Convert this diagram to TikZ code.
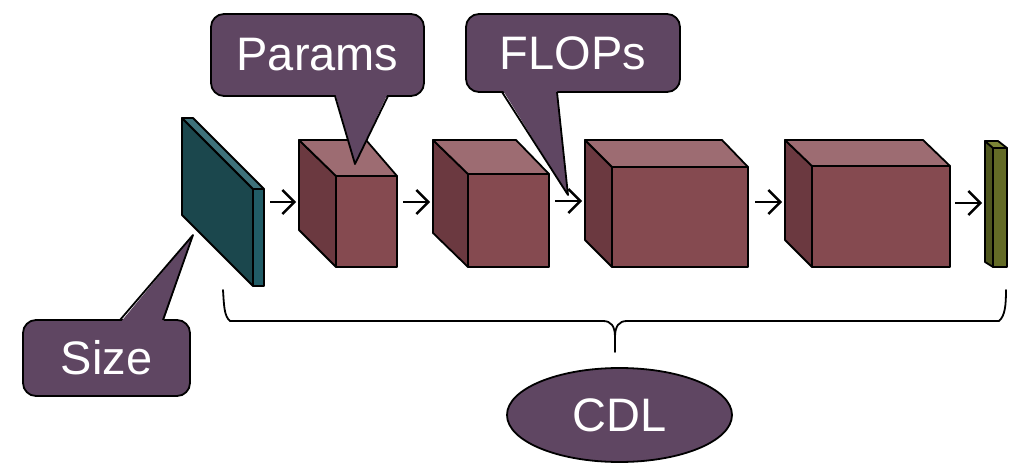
\documentclass[tikz,border=0pt]{standalone}
\usepackage{fontspec}
\setmainfont{Liberation Sans}
\usetikzlibrary{arrows.meta,shapes.geometric}
\definecolor{redF}{HTML}{854A50}
\definecolor{redT}{HTML}{9D6C72}
\definecolor{redS}{HTML}{6B3940}
\definecolor{tealF}{HTML}{215C66}
\definecolor{tealT}{HTML}{3E717A}
\definecolor{tealS}{HTML}{1B474D}
\definecolor{oliveF}{HTML}{636B26}
\definecolor{oliveT}{HTML}{7C8536}
\definecolor{oliveS}{HTML}{4F561E}
\definecolor{calloutc}{HTML}{5F4662}
\newcommand\drawblock[9]{%
  \filldraw[fill=#9S] (#1,#2) -- (#4,#5) -- (#4,#7) -- (#1,#8) -- cycle;
  \filldraw[fill=#9T] (#1,#2) -- (#3,#2) -- (#6,#5) -- (#4,#5) -- cycle;
  \filldraw[fill=#9F] (#4,#5) rectangle (#6,#7);
}
\tikzset{
  calloutbox/.style={rectangle, rounded corners=13pt, draw, fill=calloutc, text=white,
    font=\fontsize{47}{56}\selectfont, inner sep=0pt},
  flowarrow/.style={line width=2.4pt, -{Straight Barb[length=12pt,width=24pt,line width=2.4pt]}},
  bracepath/.style={line width=1.8pt, line cap=round, line join=round},
}
\begin{document}
\begin{tikzpicture}[x=1pt,y=-1pt, line width=1.8pt, line join=round]
\useasboundingbox (0,0) rectangle (1012,476);
% blocks
\drawblock{182}{118}{193}{253}{189}{264}{286}{215}{teal}
\drawblock{299}{140}{366}{336}{176}{397}{267}{230}{red}
\drawblock{433}{140}{516}{468}{174}{549}{267}{233}{red}
\drawblock{585}{140}{722}{612}{167}{748}{267}{240}{red}
\drawblock{785}{140}{923}{812}{166}{950}{267}{240}{red}
\drawblock{985}{141}{998}{993}{148}{1007}{267}{262}{olive}
% arrow end points
\coordinate (p1out) at (270,202);
\coordinate (c1in) at (296,202);
\coordinate (c1out) at (403,202);
\coordinate (c2in) at (430,202);
\coordinate (c2out) at (555,201);
\coordinate (c3in) at (582,201);
\coordinate (c3out) at (755,202);
\coordinate (c4in) at (782,202);
\coordinate (c4out) at (955,203);
\coordinate (p2in) at (982,203);
\draw[flowarrow] (p1out) -- (c1in);
\draw[flowarrow] (c1out) -- (c2in);
\draw[flowarrow] (c2out) -- (c3in);
\draw[flowarrow] (c3out) -- (c4in);
\draw[flowarrow] (c4out) -- (p2in);
% brace
\coordinate (bl) at (223,290);
\coordinate (br) at (1006,290);
\coordinate (btip) at (615,352);
\draw[bracepath] (bl) .. controls (224,305) and (224,316) .. (230,321) -- (603,321)
  .. controls (611,321) and (615,326) .. (615,337) -- (btip);
\draw[bracepath] (615,337) .. controls (615,326) and (619,321) .. (627,321) -- (999,321)
  .. controls (1005,316) and (1006,305) .. (br);
% CDL
\node[ellipse, draw, fill=calloutc, text=white, minimum width=225pt, minimum height=94pt,
  inner sep=0pt, font=\fontsize{47}{56}\selectfont] (cdl) at (619.5,415) {CDL};
% callouts
\node[calloutbox, minimum width=213pt, minimum height=82pt] (params) at (317.5,55) {Params};
\fill[calloutc] (335,93) -- (355,164) -- (388,93) -- cycle;
\draw (335,96) -- (355,164) -- (388,96);
\node[calloutbox, minimum width=214pt, minimum height=78pt] (flops) at (573,53) {FLOPs};
\fill[calloutc] (502,89) -- (568,195) -- (557,89) -- cycle;
\draw (502,92) -- (568,195) -- (557,92);
\node[calloutbox, minimum width=167pt, minimum height=76pt] (size) at (106.5,358) {Size};
\fill[calloutc] (120,323) -- (193,235) -- (163,323) -- cycle;
\draw (120,320) -- (193,235) -- (163,320);
\end{tikzpicture}
\end{document}
